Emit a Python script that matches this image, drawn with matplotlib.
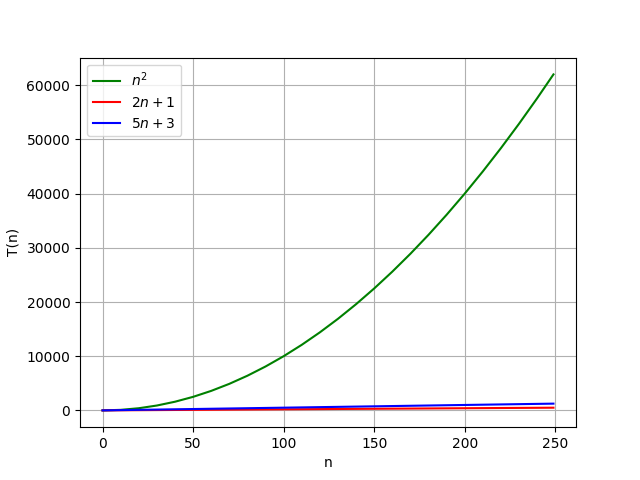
import matplotlib
matplotlib.use('Agg')
import matplotlib.pyplot as plt

n_vals = [0, 10, 20, 30, 40, 50, 60, 70, 80, 90, 100, 110, 120, 130, 140,
          150, 160, 170, 180, 190, 200, 210, 220, 230, 240, 249]
quad_vals = [0, 100, 400, 900, 1600, 2500, 3600, 4900, 6400, 8100, 10000,
             12100, 14400, 16900, 19600, 22500, 25600, 28900, 32400, 36100,
             40000, 44100, 48400, 52900, 57600, 62001]
lin2_vals = [1, 21, 41, 61, 81, 101, 121, 141, 161, 181, 201, 221, 241, 261,
             281, 301, 321, 341, 361, 381, 401, 421, 441, 461, 481, 499]
lin5_vals = [3, 53, 103, 153, 203, 253, 303, 353, 403, 453, 503, 553, 603,
             653, 703, 753, 803, 853, 903, 953, 1003, 1053, 1103, 1153, 1203,
             1248]

fig, ax = plt.subplots(figsize=(6.4, 4.8), dpi=100)
ax.plot(n_vals, quad_vals, color='green', label='$n^2$')
ax.plot(n_vals, lin2_vals, color='red', label='$2n+1$')
ax.plot(n_vals, lin5_vals, color='blue', label='$5n+3$')

ax.set_xlabel('n')
ax.set_ylabel('T(n)')
ax.grid(True)
ax.legend(loc='upper left')

fig.savefig('out.png')
